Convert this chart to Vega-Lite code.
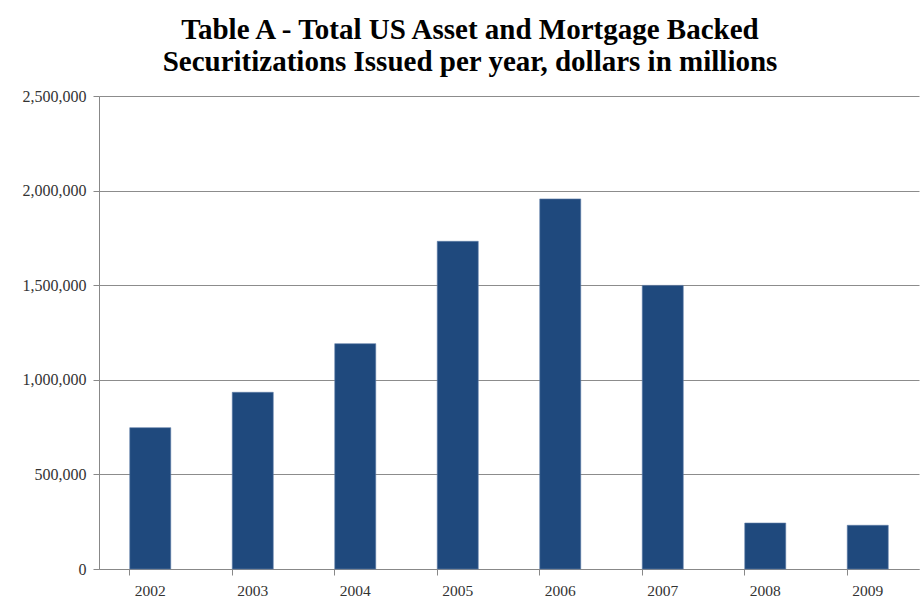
{
  "$schema": "https://vega.github.io/schema/vega-lite/v6.json",
  "autosize": {"type": "none"},
  "padding": {"left": 99, "top": 96, "right": 4, "bottom": 40},
  "width": 820,
  "height": 473,
  "background": "white",
  "title": {
    "text": ["Table A - Total US Asset and Mortgage Backed", "Securitizations Issued  per year, dollars in millions"],
    "font": "Liberation Serif",
    "fontSize": 29,
    "fontWeight": "bold",
    "color": "#000000",
    "anchor": "middle",
    "dx": -39,
    "offset": 11,
    "lineHeight": 32
  },
  "data": {
    "values": [
      {"year": "2002", "value": 747000},
      {"year": "2003", "value": 934000},
      {"year": "2004", "value": 1191000},
      {"year": "2005", "value": 1732000},
      {"year": "2006", "value": 1956000},
      {"year": "2007", "value": 1499000},
      {"year": "2008", "value": 243000},
      {"year": "2009", "value": 231000}
    ]
  },
  "mark": {"type": "bar", "color": "#1f497d", "stroke": "#5f7ea8", "strokeWidth": 0.6},
  "encoding": {
    "x": {
      "field": "year",
      "type": "nominal",
      "scale": {"paddingInner": 0.6, "paddingOuter": 0.3},
      "axis": {
        "title": null,
        "labelAngle": 0,
        "bandPosition": 0,
        "labelFont": "Liberation Serif",
        "labelFontSize": 15.5,
        "labelColor": "#333333",
        "labelPadding": 8,
        "tickSize": 6,
        "tickColor": "#888888",
        "domainColor": "#888888",
        "grid": false
      }
    },
    "y": {
      "field": "value",
      "type": "quantitative",
      "scale": {"domain": [0, 2500000], "nice": false},
      "axis": {
        "title": null,
        "values": [0, 500000, 1000000, 1500000, 2000000, 2500000],
        "format": ",.0f",
        "labelFont": "Liberation Serif",
        "labelFontSize": 16,
        "labelColor": "#333333",
        "labelPadding": 7,
        "tickSize": 6,
        "tickColor": "#888888",
        "domainColor": "#888888",
        "grid": true,
        "gridColor": "#8c8c8c",
        "gridOpacity": 1
      }
    }
  },
  "config": {"view": {"stroke": null}}
}
